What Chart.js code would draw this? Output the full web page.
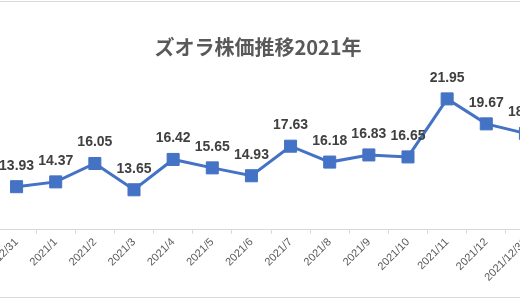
<!DOCTYPE html>
<html>
<head>
<meta charset="utf-8">
<script src="https://cdn.jsdelivr.net/npm/chart.js@4/dist/chart.umd.min.js"></script>
<style>
  html, body { margin: 0; padding: 0; background: #fff; }
  body { width: 520px; height: 300px; overflow: hidden; position: relative; }
  #frame { position: absolute; left: 0; top: 1px; width: 520px; height: 295px;
           border-top: 1px solid #d9d9d9; border-bottom: 1px solid #d9d9d9; }
  #wrap { position: absolute; left: -29.5px; top: 0; width: 574px; height: 300px; }
</style>
</head>
<body>
<div id="frame"></div>
<div id="wrap"><canvas id="stockChart"></canvas></div>
<script>
// ズオラ株価 (月末終値)
var xLabels = ["2020/12/31", "2021/1", "2021/2", "2021/3", "2021/4", "2021/5", "2021/6",
               "2021/7", "2021/8", "2021/9", "2021/10", "2021/11", "2021/12", "2021/12/31"];
var yPrices = [13.93, 14.37, 16.05, 13.65, 16.42, 15.65, 14.93,
               17.63, 16.18, 16.83, 16.65, 21.95, 19.67, 18.80];
var lineColor = "#4472C4";

// simple value labels above each point
var valueLabels = {
    id: "valueLabels",
    afterDatasetsDraw: function (chart) {
        var ctx = chart.ctx;
        var meta = chart.getDatasetMeta(0);
        ctx.save();
        ctx.font = "bold 14px 'Liberation Sans', Arial, sans-serif";
        ctx.fillStyle = "#404040";
        ctx.textAlign = "center";
        ctx.textBaseline = "middle";
        meta.data.forEach(function (pt, i) {
            ctx.fillText(yPrices[i].toFixed(2), pt.x, pt.y - 21);
        });
        ctx.restore();
    }
};

new Chart("stockChart", {
    type: "line",
    data: {
        labels: xLabels,
        datasets: [{
            data: yPrices,
            borderColor: lineColor,
            backgroundColor: lineColor,
            borderWidth: 3,
            pointStyle: "rect",
            pointRadius: 8.5,
            pointBorderWidth: 1,
            pointBackgroundColor: lineColor,
            pointBorderColor: lineColor,
            tension: 0,
            clip: false
        }]
    },
    options: {
        responsive: true,
        maintainAspectRatio: false,
        animation: false,
        layout: { autoPadding: false, padding: { left: 0, right: 0, top: 0, bottom: 14 } },
        plugins: {
            legend: { display: false },
            tooltip: { enabled: false },
            title: {
                display: true,
                text: "ズオラ株価推移2021年",
                color: "#595959",
                font: { size: 20, weight: "bold", family: "'Noto Sans CJK JP', sans-serif" },
                padding: { top: 35, bottom: 6.5 }
            }
        },
        scales: {
            x: {
                offset: true,
                grid: { drawOnChartArea: false, color: "#d9d9d9", tickLength: 4, offset: true },
                border: { color: "#d9d9d9", width: 1 },
                ticks: {
                    autoSkip: false,
                    maxRotation: 45,
                    minRotation: 45,
                    color: "#595959",
                    padding: 2,
                    font: { size: 11, family: "'Liberation Sans', Arial, sans-serif" }
                },
                // the original chart is cropped at both sides
                afterFit: function (scale) {
                    scale.paddingLeft = 26;
                    scale.paddingRight = 0;
                }
            },
            y: {
                display: false,
                min: 10,
                max: 25
            }
        }
    },
    plugins: [valueLabels]
});
</script>
</body>
</html>
